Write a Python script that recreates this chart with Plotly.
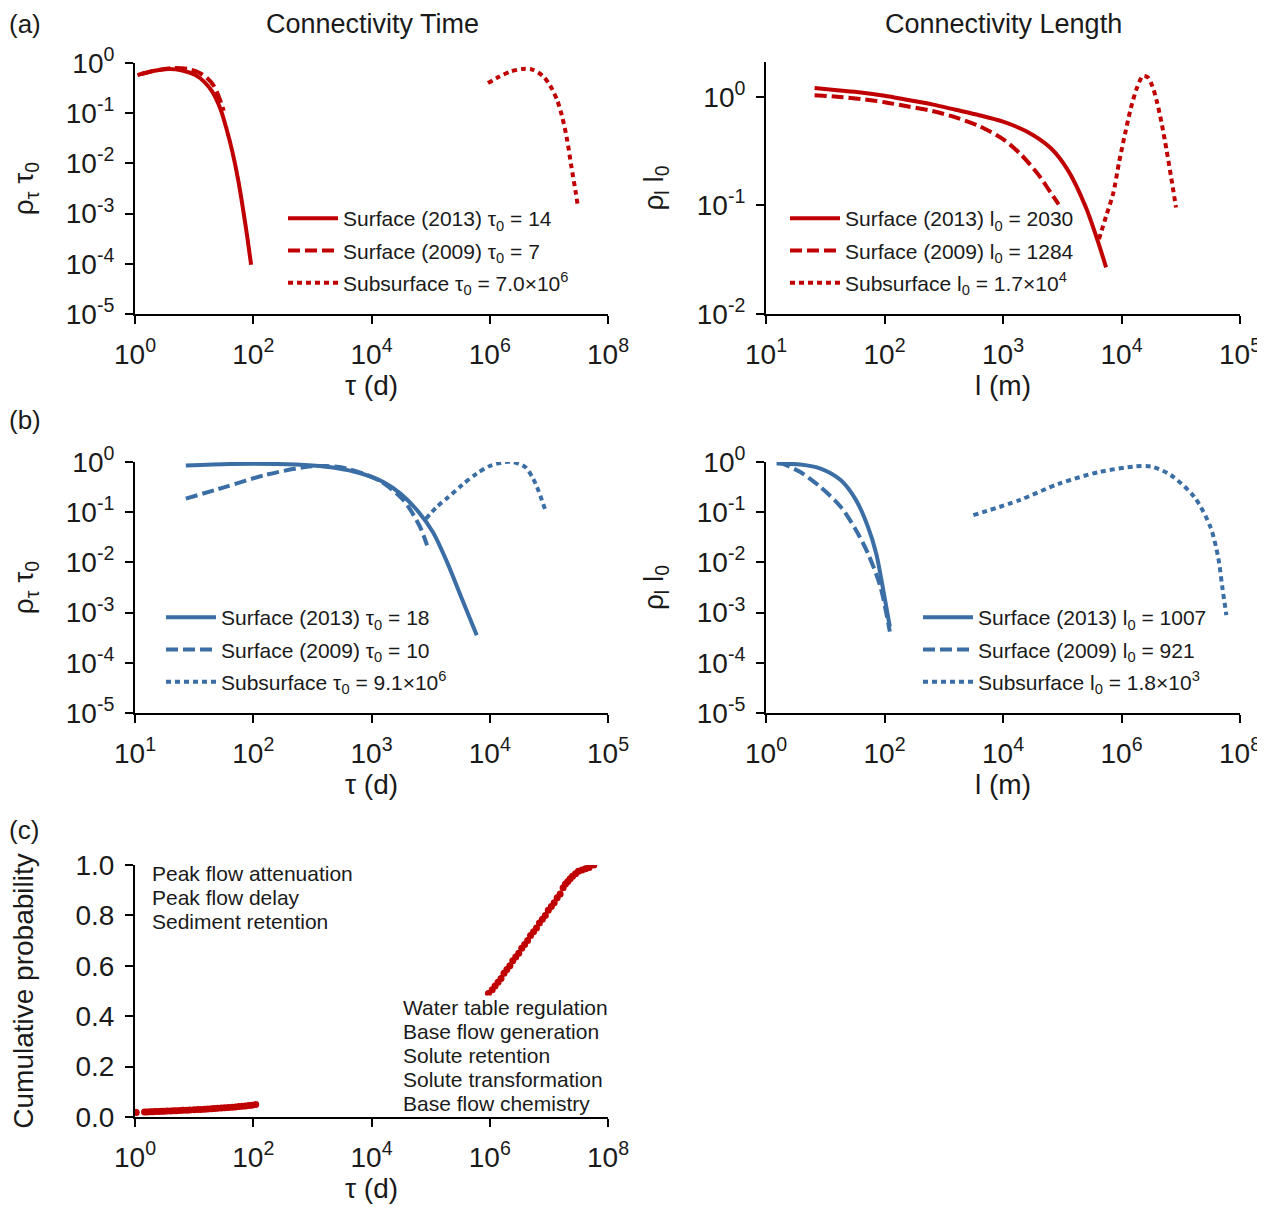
import plotly.graph_objects as go

RED = "#c00000"
BLUE = "#3a6ea5"
FONT = "Liberation Sans, Arial, sans-serif"
TXT = "#1a1a1a"

# ---------------- panel (a) left: connectivity time (red) ----------------
a_time_s13_x = [1.1, 2.0, 3.7, 6.3, 10.5, 15.0, 20.0, 28.0, 36.0, 44.0, 55.0, 68.0, 80.0, 92.0]
a_time_s13_y = [0.575, 0.692, 0.759, 0.708, 0.575, 0.417, 0.275, 0.120, 0.0447, 0.0178, 0.00501, 0.00112, 0.000316, 0.0000955]
a_time_s09_x = [1.29, 2.51, 4.47, 7.94, 12.0, 16.6, 21.9, 28.8, 31.6]
a_time_s09_y = [0.603, 0.724, 0.794, 0.759, 0.646, 0.501, 0.339, 0.158, 0.112]
a_time_sub_x = [9.33e5, 1.41e6, 2.24e6, 3.55e6, 5.25e6, 7.94e6, 1.05e7, 1.38e7, 1.66e7, 2.0e7, 2.4e7, 2.82e7, 3.09e7]
a_time_sub_y = [0.398, 0.525, 0.676, 0.759, 0.741, 0.550, 0.355, 0.182, 0.0891, 0.0331, 0.00871, 0.00282, 0.00141]

# ---------------- panel (a) right: connectivity length (red) ----------------
a_len_s13_x = [25.7, 39.8, 63.1, 100, 158.5, 251.2, 398.1, 631, 1000, 1585, 2512, 3548, 5012, 6310, 7413]
a_len_s13_y = [1.202, 1.148, 1.096, 1.023, 0.933, 0.851, 0.759, 0.676, 0.589, 0.479, 0.339, 0.209, 0.0955, 0.0468, 0.0269]
a_len_s09_x = [25.7, 39.8, 63.1, 100, 158.5, 251.2, 398.1, 631, 1000, 1413, 1995, 2512, 2951]
a_len_s09_y = [1.035, 1.0, 0.955, 0.891, 0.813, 0.741, 0.646, 0.537, 0.407, 0.295, 0.191, 0.132, 0.102]
a_len_sub_x = [6457, 7413, 8511, 9550, 10715, 12023, 13490, 15136, 16596, 18197, 19953, 21878, 23988, 26303, 28840]
a_len_sub_y = [0.049, 0.0794, 0.129, 0.251, 0.457, 0.794, 1.202, 1.549, 1.514, 1.259, 0.891, 0.562, 0.324, 0.178, 0.0955]

# ---------------- panel (b) left: connectivity time (blue) ----------------
b_time_s13_x = [26.9, 63.1, 158.5, 316, 501, 794, 1259, 1778, 2512, 3311, 4365, 5754, 7762]
b_time_s13_y = [0.851, 0.912, 0.912, 0.851, 0.759, 0.603, 0.398, 0.229, 0.100, 0.0398, 0.0100, 0.0020, 0.000355]
b_time_s09_x = [26.9, 57.5, 126, 275, 417, 617, 1148, 1862, 2570, 2951]
b_time_s09_y = [0.186, 0.316, 0.550, 0.794, 0.832, 0.741, 0.437, 0.174, 0.0513, 0.0219]
b_time_sub_x = [2884, 3548, 4467, 5888, 7762, 10000, 13490, 15849, 19953, 22909, 25119, 29512]
b_time_sub_y = [0.0741, 0.126, 0.200, 0.355, 0.589, 0.832, 1.0, 0.99, 0.794, 0.501, 0.316, 0.110]

# ---------------- panel (b) right: connectivity length (blue) ----------------
b_len_s13_x = [1.51, 3.80, 8.32, 18.2, 33.1, 52.5, 72.4, 97.7, 123]
b_len_s13_y = [0.933, 0.891, 0.741, 0.437, 0.174, 0.0513, 0.0151, 0.0024, 0.000525]
b_len_s09_x = [1.62, 3.80, 8.32, 18.2, 33.1, 52.5, 85.1, 123]
b_len_s09_y = [1.0, 0.631, 0.316, 0.129, 0.0437, 0.0151, 0.00331, 0.000417]
b_len_sub_x = [3162, 19055, 89125, 416869, 1.66e6, 3.16e6, 6.76e6, 1.70e7, 3.16e7, 4.27e7, 5.01e7, 5.89e7]
b_len_sub_y = [0.0871, 0.174, 0.372, 0.631, 0.813, 0.813, 0.550, 0.200, 0.0513, 0.0129, 0.00331, 0.000891]

# ---------------- panel (c): cumulative probability ----------------
c_tau_low = [1.05, 1.45, 1.6, 1.8, 2.0, 2.2, 2.5, 2.8, 3.1, 3.5, 4.0, 4.5, 5.0, 5.7, 6.5, 7.5, 8.5, 10,
             11.5, 13, 15, 17, 19.5, 22, 25, 29, 33, 38, 44, 50, 57, 65, 74, 84, 95, 110]
c_cum_low = [0.018, 0.020, 0.020, 0.021, 0.021, 0.022, 0.022, 0.023, 0.023, 0.024, 0.024, 0.025, 0.025,
             0.026, 0.027, 0.027, 0.028, 0.029, 0.030, 0.030, 0.031, 0.032, 0.033, 0.034, 0.035, 0.036,
             0.037, 0.038, 0.039, 0.040, 0.042, 0.043, 0.044, 0.046, 0.047, 0.050]
c_tau_high = [9.5e5, 1.1e6, 1.23e6, 1.38e6, 1.55e6, 1.74e6, 1.95e6, 2.19e6, 2.45e6, 2.75e6, 3.09e6, 3.47e6,
              3.89e6, 4.37e6, 4.9e6, 5.5e6, 6.17e6, 6.92e6, 7.76e6, 8.71e6, 9.77e6, 1.1e7, 1.23e7, 1.38e7,
              1.55e7, 1.74e7, 1.91e7, 2.09e7, 2.29e7, 2.51e7, 2.82e7, 3.16e7, 3.63e7, 4.17e7, 4.79e7, 5.75e7]
c_cum_high = [0.49, 0.505, 0.52, 0.535, 0.55, 0.57, 0.585, 0.60, 0.62, 0.635, 0.65, 0.67, 0.685, 0.70,
              0.72, 0.735, 0.75, 0.77, 0.785, 0.80, 0.82, 0.835, 0.85, 0.87, 0.885, 0.91, 0.925, 0.935,
              0.945, 0.955, 0.965, 0.975, 0.98, 0.985, 0.99, 1.0]

# ---------------- tick definitions ----------------
ticks_1e0_1e8 = [1, 1e2, 1e4, 1e6, 1e8]
labels_1e0_1e8 = ["10<sup>0</sup>", "10<sup>2</sup>", "10<sup>4</sup>", "10<sup>6</sup>", "10<sup>8</sup>"]
ticks_1e1_1e5 = [1e1, 1e2, 1e3, 1e4, 1e5]
labels_1e1_1e5 = ["10<sup>1</sup>", "10<sup>2</sup>", "10<sup>3</sup>", "10<sup>4</sup>", "10<sup>5</sup>"]
ticks_y5 = [1e-5, 1e-4, 1e-3, 1e-2, 1e-1, 1]
labels_y5 = ["10<sup>-5</sup>", "10<sup>-4</sup>", "10<sup>-3</sup>", "10<sup>-2</sup>", "10<sup>-1</sup>", "10<sup>0</sup>"]
ticks_y2 = [1e-2, 1e-1, 1]
labels_y2 = ["10<sup>-2</sup>", "10<sup>-1</sup>", "10<sup>0</sup>"]
ticks_prob = [0.0, 0.2, 0.4, 0.6, 0.8, 1.0]
labels_prob = ["0.0", "0.2", "0.4", "0.6", "0.8", "1.0"]

fig = go.Figure()

DOT = "5px,4px"
DASH = "12px,5px"


def add_line(x, y, color, dash, name, xa, ya, legend):
    fig.add_trace(go.Scatter(
        x=x, y=y, mode="lines", name=name,
        line=dict(color=color, width=4, dash=dash, shape="spline", smoothing=0.8),
        xaxis=xa, yaxis=ya, legend=legend, legendgroup=legend + name,
        hoverinfo="skip"))


add_line(a_time_s13_x, a_time_s13_y, RED, "solid", "Surface (2013) τ<sub>0</sub> = 14", "x", "y", "legend")
add_line(a_time_s09_x, a_time_s09_y, RED, DASH, "Surface (2009) τ<sub>0</sub> = 7", "x", "y", "legend")
add_line(a_time_sub_x, a_time_sub_y, RED, DOT, "Subsurface τ<sub>0</sub> = 7.0×10<sup>6</sup>", "x", "y", "legend")

add_line(a_len_s13_x, a_len_s13_y, RED, "solid", "Surface (2013) l<sub>0</sub> = 2030", "x2", "y2", "legend2")
add_line(a_len_s09_x, a_len_s09_y, RED, DASH, "Surface (2009) l<sub>0</sub> = 1284", "x2", "y2", "legend2")
add_line(a_len_sub_x, a_len_sub_y, RED, DOT, "Subsurface l<sub>0</sub> = 1.7×10<sup>4</sup>", "x2", "y2", "legend2")

add_line(b_time_s13_x, b_time_s13_y, BLUE, "solid", "Surface (2013) τ<sub>0</sub> = 18", "x3", "y3", "legend3")
add_line(b_time_s09_x, b_time_s09_y, BLUE, DASH, "Surface (2009) τ<sub>0</sub> = 10", "x3", "y3", "legend3")
add_line(b_time_sub_x, b_time_sub_y, BLUE, DOT, "Subsurface τ<sub>0</sub> = 9.1×10<sup>6</sup>", "x3", "y3", "legend3")

add_line(b_len_s13_x, b_len_s13_y, BLUE, "solid", "Surface (2013) l<sub>0</sub> = 1007", "x4", "y4", "legend4")
add_line(b_len_s09_x, b_len_s09_y, BLUE, DASH, "Surface (2009) l<sub>0</sub> = 921", "x4", "y4", "legend4")
add_line(b_len_sub_x, b_len_sub_y, BLUE, DOT, "Subsurface l<sub>0</sub> = 1.8×10<sup>3</sup>", "x4", "y4", "legend4")

for tx, cy in ((c_tau_low, c_cum_low), (c_tau_high, c_cum_high)):
    fig.add_trace(go.Scatter(x=tx, y=cy, mode="markers", showlegend=False,
                             marker=dict(color=RED, size=7, line=dict(width=0)),
                             xaxis="x5", yaxis="y5", hoverinfo="skip"))

# the page body adds an 8 px offset; layout positions below are reference pixels minus 8
OFF = 8
W, H = 1265 - OFF, 1209 - OFF


def px_x(a, b):
    return [(a - OFF) / W, (b - OFF) / W]


def px_y(top, bottom):
    return [1 - (bottom - OFF) / H, 1 - (top - OFF) / H]


def axis(domain, anchor, typ, rng, tv, tt, title, letter, standoff):
    return dict(domain=domain, anchor=anchor, type=typ, range=rng, automargin=False,
                tickmode="array", tickvals=tv, ticktext=tt,
                showline=True, linecolor="black", linewidth=2,
                ticks="outside", ticklen=8, tickwidth=2, tickcolor="black",
                showgrid=False, zeroline=False, ticklabelstandoff=6 if letter == "x" else 5,
                tickfont=dict(family=FONT, size=28, color=TXT),
                title=dict(text=title, font=dict(family=FONT, size=28, color=TXT), standoff=standoff))


XL = px_x(135, 608)
XR = px_x(766, 1240)

fig.update_layout(
    template="none",
    width=W, height=H,
    margin=dict(l=0, r=0, t=0, b=0, autoexpand=False),
    paper_bgcolor="white", plot_bgcolor="white",
    font=dict(family=FONT, color=TXT),
    xaxis=axis(XL, "y", "log", [0, 8], ticks_1e0_1e8, labels_1e0_1e8, "τ (d)", "x", 4),
    yaxis=axis(px_y(63, 314), "x", "log", [-5, 0], ticks_y5, labels_y5, "ρ<sub>τ</sub> τ<sub>0</sub>", "y", 25),
    xaxis2=axis(XR, "y2", "log", [1, 5], ticks_1e1_1e5, labels_1e1_1e5, "l (m)", "x", 4),
    yaxis2=axis(px_y(62, 314), "x2", "log", [-2, 0.32], ticks_y2, labels_y2, "ρ<sub>l</sub> l<sub>0</sub>", "y", 25),
    xaxis3=axis(XL, "y3", "log", [1, 5], ticks_1e1_1e5, labels_1e1_1e5, "τ (d)", "x", 4),
    yaxis3=axis(px_y(462, 713), "x3", "log", [-5, 0], ticks_y5, labels_y5, "ρ<sub>τ</sub> τ<sub>0</sub>", "y", 25),
    xaxis4=axis(XR, "y4", "log", [0, 8], ticks_1e0_1e8, labels_1e0_1e8, "l (m)", "x", 4),
    yaxis4=axis(px_y(462, 713), "x4", "log", [-5, 0], ticks_y5, labels_y5, "ρ<sub>l</sub> l<sub>0</sub>", "y", 25),
    xaxis5=axis(XL, "y5", "log", [0, 8], ticks_1e0_1e8, labels_1e0_1e8, "τ (d)", "x", 4),
    yaxis5=axis(px_y(865, 1117), "x5", "linear", [0, 1], ticks_prob, labels_prob, "Cumulative probability", "y", 34),
)

leg_common = dict(xanchor="left", yanchor="top", bgcolor="rgba(0,0,0,0)", borderwidth=0,
                  font=dict(family=FONT, size=21, color=TXT), itemwidth=50, tracegroupgap=2,
                  traceorder="grouped")
fig.update_layout(
    legend=dict(x=(283 - OFF) / W, y=1 - (198 - OFF) / H, **leg_common),
    legend2=dict(x=(785 - OFF) / W, y=1 - (198 - OFF) / H, **leg_common),
    legend3=dict(x=(161 - OFF) / W, y=1 - (597 - OFF) / H, **leg_common),
    legend4=dict(x=(918 - OFF) / W, y=1 - (597 - OFF) / H, **leg_common),
)

ann = []


def text(x, y, s, size, xanchor="left", bg=None):
    a = dict(x=(x - OFF) / W, y=1 - (y - OFF) / H, xref="paper", yref="paper", text=s, showarrow=False,
             xanchor=xanchor, yanchor="middle", borderpad=0,
             font=dict(family=FONT, size=size, color=TXT))
    if bg:
        a["bgcolor"] = bg
    ann.append(a)


text(8, 24, "(a)", 26)
text(8, 420, "(b)", 26)
text(8, 830, "(c)", 26)
text(372, 24, "Connectivity Time", 27, "center")
text(1003, 24, "Connectivity Length", 27, "center")

left_notes = ["Peak flow attenuation", "Peak flow delay", "Sediment retention"]
right_notes = ["Water table regulation", "Base flow generation", "Solute retention",
               "Solute transformation", "Base flow chemistry"]
for i, s in enumerate(left_notes):
    text(151, 873 + 24 * i, s, 21)
for i, s in enumerate(right_notes):
    text(402, 1007 + 24 * i, s, 21, bg="white")

fig.update_layout(annotations=ann)

fig.write_html("out.html")
